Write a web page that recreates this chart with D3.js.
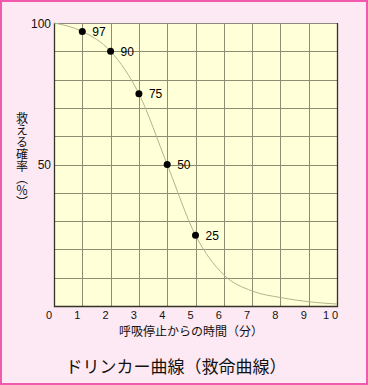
<!DOCTYPE html>
<html>
<head>
<meta charset="utf-8">
<script src="https://cdn.jsdelivr.net/npm/d3@7"></script>
<style>
  html, body { margin: 0; padding: 0; background: #fde9f3; }
  svg { display: block; }
</style>
</head>
<body>
<div id="chart"></div>
<script>
// Drinker curve: minutes after respiratory arrest -> survival probability (%)
const minutes = [0, 1, 2, 3, 4, 5, 6, 7, 8, 9, 10]
const survival = [100, 97, 90, 75, 50, 25, 11, 5.3, 3, 1.5, 0.7]
const markedMinutes = [1, 2, 3, 4, 5]
const markedValues = [97, 90, 75, 50, 25]
const xTicks = [0, 1, 2, 3, 4, 5, 6, 7, 8, 9, 10]
const yGrid = [0, 10, 20, 30, 40, 50, 60, 70, 80, 90, 100]
const yLabels = [50, 100]

const W = 368, H = 385
const jpFont = "'Noto Sans CJK JP', sans-serif"
const numFont = "'Liberation Sans', Arial, sans-serif"

const svg = d3.select("#chart").append("svg")
  .attr("width", W)
  .attr("height", H)

// pink panel + border
svg.append("rect")
  .attr("x", 1).attr("y", 1)
  .attr("width", W - 2).attr("height", H - 2)
  .attr("fill", "#fde9f3")
  .attr("stroke", "#f25aae")
  .attr("stroke-width", 2)

const x = d3.scaleLinear().domain([0, 10]).range([54, 337])
const y = d3.scaleLinear().domain([0, 100]).range([306, 23])

// plot area
svg.append("rect")
  .attr("x", x(0)).attr("y", y(100))
  .attr("width", x(10) - x(0)).attr("height", y(0) - y(100))
  .attr("fill", "#ffffd8")

// grid
const grid = svg.append("g").attr("stroke", "#8d8d72").attr("stroke-width", 1).attr("shape-rendering", "crispEdges")
grid.selectAll(".vg").data(xTicks.slice(1, -1)).enter().append("line")
  .attr("x1", d => Math.round(x(d)) + 0.5).attr("x2", d => Math.round(x(d)) + 0.5)
  .attr("y1", y(100)).attr("y2", y(0))
grid.selectAll(".hg").data(yGrid.slice(1, -1)).enter().append("line")
  .attr("y1", d => Math.round(y(d)) + 0.5).attr("y2", d => Math.round(y(d)) + 0.5)
  .attr("x1", x(0)).attr("x2", x(10))

// frame: grey top, dark sides/bottom
svg.append("line")
  .attr("x1", x(0)).attr("x2", x(10)).attr("y1", y(100) + 0.5).attr("y2", y(100) + 0.5)
  .attr("stroke", "#8a8a80")
svg.append("path")
  .attr("d", `M${x(0) + 0.5},${y(100)}V${y(0) + 0.5}H${x(10) + 0.5}V${y(100)}`)
  .attr("fill", "none")
  .attr("stroke", "#333328")
  .attr("stroke-width", 1.3)

// curve
const pts = minutes.map((m, i) => [m, survival[i]])
svg.append("path")
  .datum(pts)
  .attr("fill", "none")
  .attr("stroke", "#b3b38f")
  .attr("stroke-width", 1)
  .attr("d", d3.line().x(d => x(d[0])).y(d => y(d[1])).curve(d3.curveMonotoneX))

// marked points + labels
const marks = markedMinutes.map((m, i) => ({ m, v: markedValues[i] }))
svg.selectAll(".dot").data(marks).enter().append("circle")
  .attr("cx", d => x(d.m)).attr("cy", d => y(d.v))
  .attr("r", 3.5)
  .attr("fill", "#000")
svg.selectAll(".dot-label").data(marks).enter().append("text")
  .attr("x", d => x(d.m) + 10)
  .attr("y", d => y(d.v) + 4.5)
  .attr("font-family", numFont)
  .attr("font-size", "12px")
  .attr("fill", "#000")
  .text(d => d.v)

// x tick labels
svg.selectAll(".xt").data(xTicks).enter().append("text")
  .attr("x", d => x(d) - 5)
  .attr("y", 319)
  .attr("text-anchor", "middle")
  .attr("font-family", numFont)
  .attr("font-size", "11px")
  .attr("letter-spacing", d => d >= 10 ? "3px" : null)
  .attr("fill", "#111")
  .text(d => d)

// y tick labels
svg.selectAll(".yt").data(yLabels).enter().append("text")
  .attr("x", x(0) - 3)
  .attr("y", d => y(d) + 4.5)
  .attr("text-anchor", "end")
  .attr("font-family", numFont)
  .attr("font-size", "12px")
  .attr("fill", "#111")
  .text(d => d)

// axis titles
svg.append("text")
  .attr("x", 191).attr("y", 335.5)
  .attr("text-anchor", "middle")
  .attr("font-family", jpFont)
  .attr("font-size", "12px")
  .attr("fill", "#111")
  .text("呼吸停止からの時間（分）")

svg.append("text")
  .attr("x", 22).attr("y", 112)
  .attr("font-family", jpFont)
  .attr("font-size", "12px")
  .attr("fill", "#111")
  .style("writing-mode", "vertical-rl")
  .text("救える確率（％）")

// chart title
svg.append("text")
  .attr("x", 176).attr("y", 373)
  .attr("text-anchor", "middle")
  .attr("font-family", jpFont)
  .attr("font-size", "17px")
  .attr("fill", "#111")
  .text("ドリンカー曲線（救命曲線）")
</script>
</body>
</html>
